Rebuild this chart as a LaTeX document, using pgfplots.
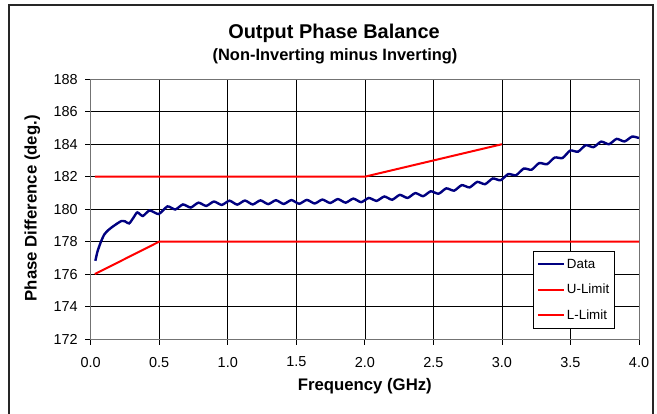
\documentclass[border=0pt]{standalone}
\usepackage{fontspec}
\setmainfont{Liberation Sans}
\usepackage{pgfplots}
\pgfplotsset{compat=1.18}
\definecolor{navyblue}{RGB}{0,0,128}
\definecolor{limred}{RGB}{255,0,0}
\begin{document}
\begin{tikzpicture}[x=1bp,y=1bp]
\begin{axis}[
  at={(0,0)}, anchor=south west,
  scale only axis, width=548.3bp, height=259.7bp,
  xmin=0, xmax=4, ymin=172, ymax=188,
  xtick={0,0.5,1,1.5,2,2.5,3,3.5,4},
  ytick={172,174,176,178,180,182,184,186,188},
  grid=major, major grid style={black, line width=0.7bp},
  axis line style={black!55, line width=1bp},
  tick align=outside, major tick length=5.5bp,
  tick style={black, line width=0.8bp},
  xtick pos=left, ytick pos=left,
  /pgf/number format/assume math mode=true,
  ticklabel style={font=\fontsize{14.5}{17}\selectfont},
  xticklabel style={/pgf/number format/.cd, fixed, fixed zerofill, precision=1},
  yticklabel style={/pgf/number format/.cd, fixed, precision=0},
  xticklabel shift=9bp, yticklabel shift=4bp,
  xlabel={Frequency (GHz)},
  ylabel={Phase Difference (deg.)},
  label style={font=\fontsize{16.8}{20}\selectfont\bfseries},
  xlabel style={at={(axis description cs:0.5,-0.1964)}, anchor=base},
  ylabel style={at={(axis description cs:-0.0985,0.503)}, anchor=base, rotate=0},
  legend style={at={(0.807,0.339)}, anchor=north west, draw=black, line width=0.8bp,
    font=\fontsize{13.4}{16}\selectfont, row sep=10.5bp, inner xsep=3bp, inner ysep=5.5bp},
  legend cell align=left,
  legend image code/.code={\draw[#1] (0bp,0bp) -- (26bp,0bp);},
]
\addplot[navyblue, line width=2.4bp, smooth, tension=0.4] coordinates {
(0.034,176.82) (0.05,177.40) (0.075,178.00) (0.10,178.45) (0.13,178.72) (0.16,178.92)
(0.20,179.15) (0.225,179.27) (0.25,179.25) (0.28,179.12) (0.31,179.45) (0.34,179.80)
(0.38,179.58) (0.43,179.92) (0.496,179.70)
(0.560,180.17) (0.617,179.98) (0.673,180.29) (0.730,180.10) (0.786,180.40) (0.843,180.20)
(0.899,180.47) (0.956,180.26) (1.012,180.52) (1.069,180.28) (1.125,180.53) (1.182,180.29)
(1.238,180.54) (1.295,180.31) (1.351,180.55) (1.408,180.32) (1.464,180.56) (1.521,180.33)
(1.577,180.57) (1.634,180.35) (1.690,180.59) (1.747,180.38) (1.803,180.62) (1.860,180.40)
(1.916,180.65) (1.973,180.43) (2.029,180.69) (2.086,180.51) (2.142,180.78) (2.199,180.58)
(2.255,180.88) (2.312,180.69) (2.368,180.99) (2.425,180.80) (2.481,181.10) (2.538,180.95)
(2.594,181.28) (2.651,181.14) (2.707,181.48) (2.764,181.34) (2.820,181.68) (2.877,181.54)
(2.933,181.89) (2.990,181.78) (3.046,182.16) (3.103,182.09) (3.159,182.50) (3.216,182.43)
(3.272,182.84) (3.329,182.77) (3.385,183.18) (3.442,183.15) (3.498,183.61) (3.555,183.54)
(3.611,183.94) (3.668,183.82) (3.724,184.16) (3.781,184.00) (3.837,184.33) (3.894,184.17)
(3.950,184.47) (4.000,184.38)
};
\addlegendentry{Data}
\addplot[limred, line width=2bp] coordinates {(0.03,182) (2.0,182) (3.0,184)};
\addlegendentry{U-Limit}
\addplot[limred, line width=2bp] coordinates {(0.03,176) (0.5,178) (4.0,178)};
\addlegendentry{L-Limit}
\end{axis}
\node[anchor=base, font=\fontsize{20}{24}\selectfont\bfseries] at (243.3,300.7) {Output Phase Balance};
\node[anchor=base, font=\fontsize{16.5}{20}\selectfont\bfseries] at (244.3,279) {(Non-Inverting minus Inverting)};
\draw[line width=2bp, black!85] (-81.7,-80) -- (-81.7,334) -- (562.6,334) -- (562.6,-80);
\pgfresetboundingbox
\path[use as bounding box] (-90.7,-74) rectangle (566.3,339);
\end{tikzpicture}
\end{document}
